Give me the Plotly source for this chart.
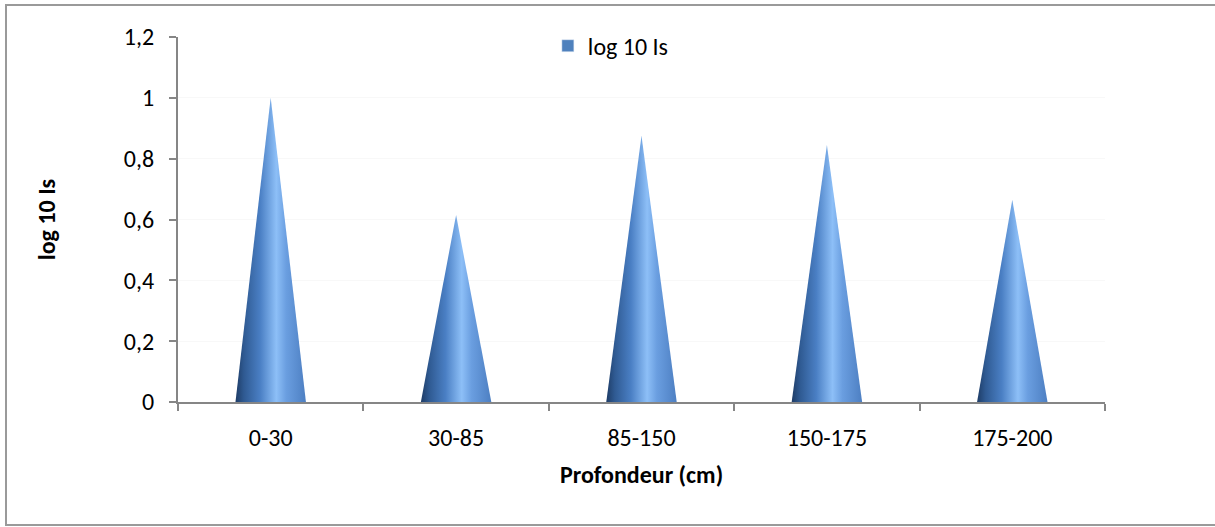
import plotly.graph_objects as go

# Depth horizons and their log10 Is values
categories = ["0-30", "30-85", "85-150", "150-175", "175-200"]
log10_is = [1.0, 0.615, 0.875, 0.845, 0.665]

y_tickvals = [0, 0.2, 0.4, 0.6, 0.8, 1.0, 1.2]
y_ticktext = ["0", "0,2", "0,4", "0,6", "0,8", "1", "1,2"]

series_name = "log 10 Is"
x_title = "Profondeur (cm)"
y_title = "log 10 Is"

FONT = "Carlito, Lato, 'Open Sans', sans-serif"
FS = 24
HALF = 0.19  # half base width of each cone, in category units

# Shaded blue for the cone surfaces (dark left edge, highlight right of centre)
cone_scale = [
    [0.0, "#1e3c66"],
    [0.12, "#2f5a92"],
    [0.35, "#4a7fc4"],
    [0.58, "#8dbff7"],
    [0.72, "#6a9ee0"],
    [1.0, "#4d7fc2"],
]

fig = go.Figure()

for i, v in enumerate(log10_is):
    fig.add_trace(go.Scatter(
        x=[i - HALF, i, i + HALF, i - HALF],
        y=[0, v, 0, 0],
        mode="lines",
        line=dict(width=0),
        fill="toself",
        fillgradient=dict(type="horizontal", colorscale=cone_scale,
                          start=i - HALF, stop=i + HALF),
        showlegend=False,
        hoverinfo="skip",
    ))

# Legend entry for the series
fig.add_trace(go.Bar(x=[None], y=[None], name=series_name,
                     marker=dict(color="#4f81bd"), showlegend=True))

boundaries = [k - 0.5 for k in range(len(categories) + 1)]

fig.update_layout(
    width=1215, height=527,
    margin=dict(l=178, r=110, t=37, b=125),
    paper_bgcolor="white",
    plot_bgcolor="white",
    font=dict(family=FONT, size=FS, color="#000000"),
    showlegend=True,
    legend=dict(orientation="h", x=0.399, xanchor="left", y=0.975, yanchor="middle",
                font=dict(family=FONT, size=FS), bgcolor="rgba(0,0,0,0)",
                itemwidth=30),
    xaxis=dict(
        range=[-0.5, len(categories) - 0.5],
        tickvals=list(range(len(categories))),
        ticktext=categories,
        ticks="",
        ticklabelstandoff=13,
        showgrid=False,
        zeroline=False,
        showline=True, linecolor="#868686", linewidth=2,
        tickfont=dict(family=FONT, size=FS, color="#000"),
        minor=dict(tickvals=boundaries, ticks="outside", ticklen=7,
                   tickcolor="#868686", tickwidth=2, showgrid=False),
        title=dict(text="<b>" + x_title + "</b>", standoff=15,
                   font=dict(family=FONT, size=FS, color="#000")),
        fixedrange=True,
    ),
    yaxis=dict(
        range=[0, 1.2],
        tickvals=y_tickvals,
        ticktext=y_ticktext,
        ticks="outside", ticklen=7, tickcolor="#868686", tickwidth=2,
        ticklabelstandoff=10,
        showline=True, linecolor="#868686", linewidth=2,
        showgrid=True, gridcolor="#f8f8f8", gridwidth=1,
        zeroline=False,
        tickfont=dict(family=FONT, size=FS, color="#000"),
        title=dict(text="<b>" + y_title + "</b>", standoff=61,
                   font=dict(family=FONT, size=FS, color="#000")),
        fixedrange=True,
    ),
    shapes=[dict(type="rect", xref="paper", yref="paper",
                 x0=-172 / 927, x1=(1215 - 178 + 20) / 927,
                 y0=-123 / 365, y1=(37 - 5 + 365) / 365,
                 line=dict(color="#9a9a9a", width=2), layer="below")],
)

fig.write_html("out.html")
